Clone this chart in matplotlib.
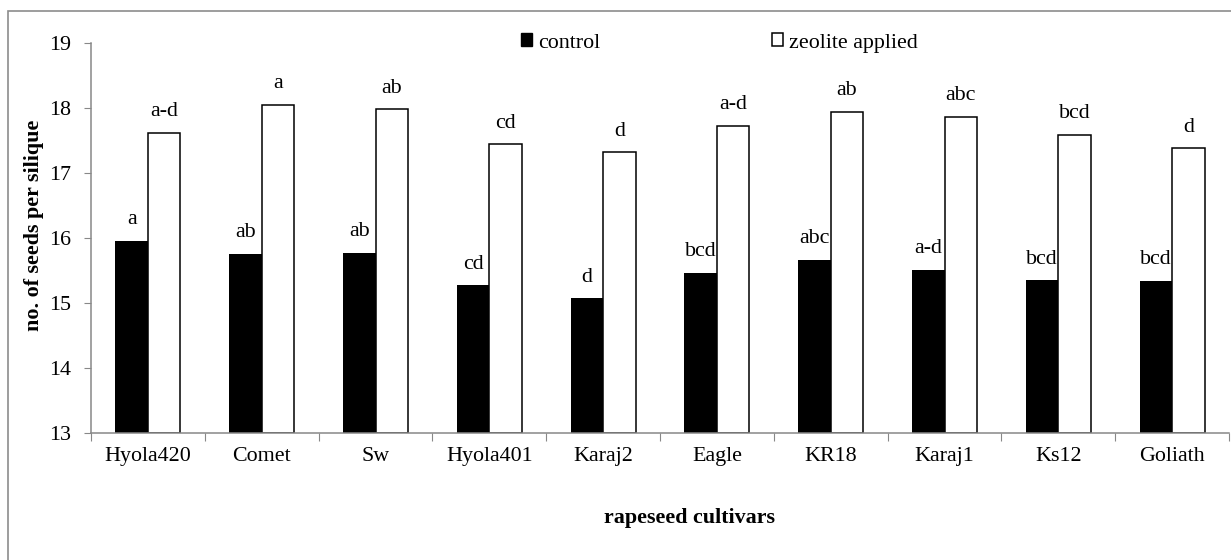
import matplotlib
matplotlib.use('Agg')
import matplotlib.pyplot as plt
import numpy as np
from matplotlib.patches import Patch, Rectangle

# Data
cultivars = ['Hyola420', 'Comet', 'Sw', 'Hyola401', 'Karaj2', 'Eagle', 'KR18', 'Karaj1', 'Ks12', 'Goliath']
control = [15.96, 15.76, 15.77, 15.27, 15.07, 15.46, 15.66, 15.51, 15.35, 15.34]
zeolite = [17.62, 18.05, 17.98, 17.44, 17.32, 17.73, 17.94, 17.86, 17.59, 17.38]
control_labels = ['a', 'ab', 'ab', 'cd', 'd', 'bcd', 'abc', 'a-d', 'bcd', 'bcd']
zeolite_labels = ['a-d', 'a', 'ab', 'cd', 'd', 'a-d', 'ab', 'abc', 'bcd', 'd']

plt.rcParams['font.family'] = ['Liberation Serif', 'DejaVu Serif']
fs = 15.8
W, H = 1231, 560
fig = plt.figure(figsize=(W / 100, H / 100), dpi=100)
ax = fig.add_axes([91 / W, 1 - 433 / H, (1229 - 91) / W, (433 - 43) / H])

x = np.arange(len(cultivars))
bw = 0.285
ax.bar(x - bw / 2, np.array(control) - 13, bw, bottom=13, color='black', edgecolor='black', linewidth=0)
ax.bar(x + bw / 2, np.array(zeolite) - 13, bw, bottom=13, color='white', edgecolor='black', linewidth=1.1)

# significance letters
for i in range(len(cultivars)):
    ax.annotate(control_labels[i], (x[i] - bw / 2, control[i]), xytext=(0, 12), textcoords='offset points',
                ha='center', va='baseline', fontsize=fs)
    ax.annotate(zeolite_labels[i], (x[i] + bw / 2, zeolite[i]), xytext=(0, 12), textcoords='offset points',
                ha='center', va='baseline', fontsize=fs)

ax.set_xlim(-0.5, len(cultivars) - 0.5)
ax.set_ylim(13, 19)
ax.set_yticks(range(13, 20))
ax.tick_params(axis='y', labelsize=fs, direction='out', length=5, color='#888888', pad=9)

ax.set_xticks(np.arange(len(cultivars) + 1) - 0.5)
ax.set_xticklabels([])
ax.set_xticks(x, minor=True)
ax.set_xticklabels(cultivars, minor=True)
ax.tick_params(axis='x', which='major', direction='out', length=6, color='#888888')
ax.tick_params(axis='x', which='minor', length=0, labelsize=fs, pad=10)

for s in ['top', 'right']:
    ax.spines[s].set_visible(False)
for s in ['left', 'bottom']:
    ax.spines[s].set_color('#888888')
    ax.spines[s].set_linewidth(1.1)

fig.text(34 / W, 1 - 225 / H, 'no. of seeds per silique', rotation=90, ha='center', va='center',
         fontsize=fs, fontweight='bold')
fig.text(690 / W, 1 - 518 / H, 'rapeseed cultivars', ha='center', va='center',
         fontsize=fs, fontweight='bold')

handles = [Patch(facecolor='black', edgecolor='black', label='control'),
           Patch(facecolor='white', edgecolor='black', linewidth=1.1, label='zeolite applied')]
ax.legend(handles=handles, ncol=2, loc='center left', bbox_to_anchor=(521 / W, 1 - 43 / H),
          bbox_transform=fig.transFigure, frameon=False, fontsize=fs, handlelength=0.5,
          handleheight=0.5, handletextpad=0.3, columnspacing=7.8, borderpad=0, borderaxespad=0)

# outer chart frame (only top and left edges visible)
fig.patches.append(Rectangle((8 / W, -0.1), 1.2, 1 - 11 / H + 0.1, transform=fig.transFigure,
                             fill=False, edgecolor='#8c8c8c', linewidth=1.2))

fig.savefig('out.png', dpi=100)
